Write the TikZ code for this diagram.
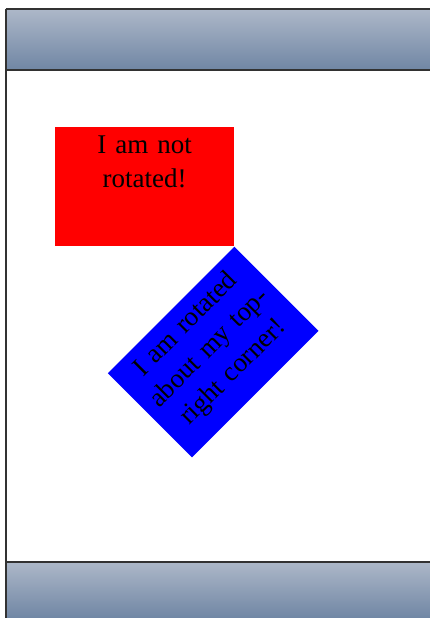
\documentclass[tikz,border=0pt]{standalone}
\usepackage{fontspec}
\setmainfont{Liberation Serif}
\definecolor{bandtop}{RGB}{172,183,200}
\definecolor{bandbot}{RGB}{112,134,164}
\definecolor{frame}{RGB}{50,50,50}
\tikzset{
  band/.style={top color=bandtop, bottom color=bandbot, draw=none},
  frameline/.style={draw=frame, line width=2pt},
  boxshape/.style={rectangle, minimum width=179pt, minimum height=119pt, inner sep=0pt, draw=none},
  boxtext/.style={text width=170pt, align=center, inner sep=9pt, font=\fontsize{27}{33.6}\selectfont, text=black}
}
\begin{document}
\begin{tikzpicture}[x=1pt,y=-1pt]
\useasboundingbox (0,0) rectangle (430,618);
\fill[white] (0,0) rectangle (430,618);
% header and footer bands
\node[band, rectangle, minimum width=425pt, minimum height=60.5pt, inner sep=0pt, anchor=north west] (head) at (5.5,9.5) {};
\node[band, rectangle, minimum width=425pt, minimum height=56pt, inner sep=0pt, anchor=north west] (foot) at (5.5,562) {};
\draw[frameline] (head.north west) -- (head.north east);
\draw[frameline] (head.south west) -- (head.south east);
\draw[frameline] (foot.north west) -- (foot.north east);
\draw[frameline] (head.north west) -- (foot.south west);
% red box
\node[boxshape, fill=red, anchor=north west] (red) at (55,127) {};
\node[boxtext, anchor=north] (redtext) at (red.north) {I am not\\rotated!};
% blue box rotated about its top-right corner
\node[boxshape, fill=blue, rotate=45, anchor=north east] (blue) at (red.south east) {};
\node[boxtext, rotate=45, anchor=north] (bluetext) at (blue.north) {I am rotated\\about my top-\\right corner!};
\end{tikzpicture}
\end{document}
